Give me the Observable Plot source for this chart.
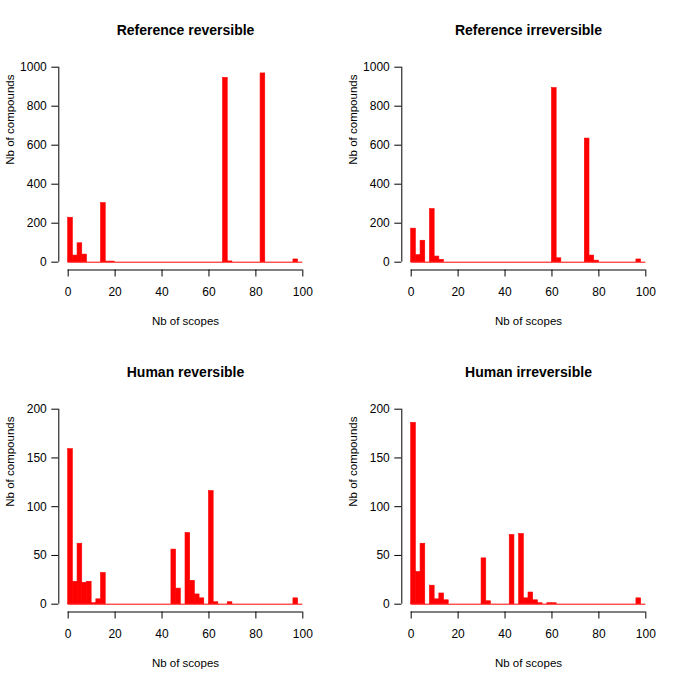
<!DOCTYPE html>
<html>
<head>
<meta charset="utf-8">
<script src="https://cdn.jsdelivr.net/npm/d3@7"></script>
<script src="https://cdn.jsdelivr.net/npm/@observablehq/plot@0.6"></script>
<style>
  html, body { margin: 0; padding: 0; background: #fff; }
  #wrap { position: relative; width: 685px; height: 684px; background: #fff; overflow: hidden; }
  .panel { position: absolute; }
  svg { font-family: "Liberation Sans", Arial, sans-serif; }
</style>
</head>
<body>
<div id="wrap"></div>
<script>
// Bin starts (bins of width 2 on the "Nb of scopes" axis, 0..100)
const bins = d3.range(0, 100, 2);

const titles = ["Reference reversible", "Reference irreversible", "Human reversible", "Human irreversible"];
const xLabel = "Nb of scopes";
const yLabel = "Nb of compounds";
const xTicks = [0, 20, 40, 60, 80, 100];
const yTicksTop = [0, 200, 400, 600, 800, 1000];
const yTicksBottom = [0, 50, 100, 150, 200];

// counts per bin (50 bins each)
const refRev = [228, 34, 97, 39, 0, 0, 0, 303, 3, 3,
                0, 0, 0, 0, 0, 0, 0, 0, 0, 0,
                0, 0, 0, 0, 0, 0, 0, 0, 0, 0,
                0, 0, 0, 945, 4, 0, 0, 0, 0, 0,
                0, 968, 0, 0, 0, 0, 0, 0, 14, 0];
const refIrr = [172, 36, 110, 0, 272, 29, 12, 0, 0, 0,
                0, 0, 0, 0, 0, 0, 0, 0, 0, 0,
                0, 0, 0, 0, 0, 0, 0, 0, 0, 0,
                893, 20, 0, 0, 0, 0, 0, 634, 34, 8,
                0, 0, 0, 0, 0, 0, 0, 0, 14, 0];
const humRev = [159, 23, 62, 22, 23, 1, 5, 32, 0, 0,
                0, 0, 0, 0, 0, 0, 0, 0, 0, 0,
                0, 0, 56, 16, 0, 73, 24, 10, 6, 0,
                116, 2, 0, 0, 2, 0, 0, 0, 0, 0,
                0, 0, 0, 0, 0, 0, 0, 0, 6, 0];
const humIrr = [186, 33, 62, 0, 19, 5, 11, 4, 0, 0,
                0, 0, 0, 0, 0, 47, 3, 0, 0, 0,
                0, 71, 0, 72, 6, 12, 4, 1, 0, 1,
                1, 0, 0, 0, 0, 0, 0, 0, 0, 0,
                0, 0, 0, 0, 0, 0, 0, 0, 6, 0];

const series = [refRev, refIrr, humRev, humIrr];
const yMaxes = [1000, 1000, 200, 200];
const yTickSets = [yTicksTop, yTicksTop, yTicksBottom, yTicksBottom];

const PW = 342.5, PH = 342;
const wrap = document.getElementById("wrap");

series.forEach((counts, k) => {
  const ymax = yMaxes[k];
  const data = counts.map((c, i) => ({x1: bins[i], x2: bins[i] + 2, c})).filter(d => d.c > 0);
  const chart = Plot.plot({
    width: PW,
    height: PH,
    marginLeft: 58.3,
    marginRight: 30.8,
    marginTop: 58.9,
    marginBottom: 72.5,
    style: {fontFamily: "Liberation Sans, Arial, sans-serif", fontSize: "12px", color: "#000", background: "#fff"},
    x: {domain: [-4, 104]},
    y: {domain: [-0.04 * ymax, 1.04 * ymax]},
    marks: [
      Plot.ruleY([0], {x1: 0, x2: 100, stroke: "#ff0000", strokeWidth: 1}),
      Plot.rect(data, {x1: "x1", x2: "x2", y1: 0, y2: "c", fill: "#ff0000", stroke: "#ff0000", strokeWidth: 0.6}),
      Plot.ruleX([-4], {y1: 0, y2: ymax, stroke: "#000"}),
      Plot.axisY({ticks: yTickSets[k], tickFormat: d => String(d), tickSize: 7, tickPadding: 5, label: null, fontSize: 12, stroke: "#000"}),
      Plot.ruleY([-0.04 * ymax], {x1: 0, x2: 100, stroke: "#000"}),
      Plot.axisX({ticks: xTicks, tickFormat: d => String(d), tickSize: 7, tickPadding: 10, label: null, fontSize: 12, stroke: "#000"}),
      Plot.text([titles[k]], {frameAnchor: "top", dy: -34.5, fontWeight: "bold", fontSize: 14, fill: "#000"}),
      Plot.text([xLabel], {frameAnchor: "bottom", dy: 54.5, fontSize: 11.5, fill: "#000"}),
      Plot.text([yLabel], {frameAnchor: "left", dx: -48.3, rotate: -90, fontSize: 11.5, fill: "#000"})
    ]
  });
  const div = document.createElement("div");
  div.className = "panel";
  div.style.left = (k % 2) * PW + "px";
  div.style.top = Math.floor(k / 2) * PH + "px";
  div.appendChild(chart);
  wrap.appendChild(div);
});
</script>
</body>
</html>
